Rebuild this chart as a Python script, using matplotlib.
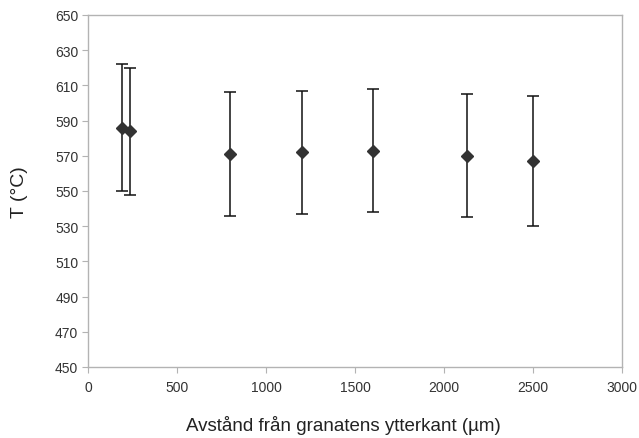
import matplotlib
matplotlib.use("Agg")
import matplotlib.pyplot as plt

plt.rcParams['font.family'] = ['Liberation Sans', 'DejaVu Sans']

# avstånd (µm) och temperatur (°C) med felstaplar
dist = [190, 235, 800, 1200, 1600, 2130, 2500]
temp = [586, 584, 571, 572, 573, 570, 567]
upper = [622, 620, 606, 607, 608, 605, 604]
lower = [550, 548, 536, 537, 538, 535, 530]

err_lo = [t - l for t, l in zip(temp, lower)]
err_hi = [u - t for t, u in zip(temp, upper)]

fig = plt.figure(figsize=(6.39, 4.39), dpi=100)
ax = fig.add_axes([88/639, 1 - 368/439, (622-88)/639, (368-16)/439])

ax.errorbar(dist, temp, yerr=[err_lo, err_hi], fmt='D', color='#333333',
            markersize=6.5, ecolor='#111111', elinewidth=1.1, capsize=4, capthick=1.1)

ax.set_xlim(0, 3000)
ax.set_ylim(450, 650)
ax.set_xticks(range(0, 3001, 500))
ax.set_yticks(range(450, 651, 20))

for s in ax.spines.values():
    s.set_color('#b3b3b3')
    s.set_linewidth(1)
ax.tick_params(axis='both', colors='#b3b3b3', labelcolor='#333333', labelsize=10,
               length=4, direction='out')
ax.tick_params(axis='x', pad=5)
ax.tick_params(axis='y', pad=3)

ax.set_xlabel("Avstånd från granatens ytterkant (µm)", fontsize=13.5, color='#222222')
ax.set_ylabel("T (°C)", fontsize=14, color='#222222')
ax.xaxis.set_label_coords(0.479, -0.135)
ax.yaxis.set_label_coords(-0.112, 0.5)

fig.savefig("out.png", dpi=100)
